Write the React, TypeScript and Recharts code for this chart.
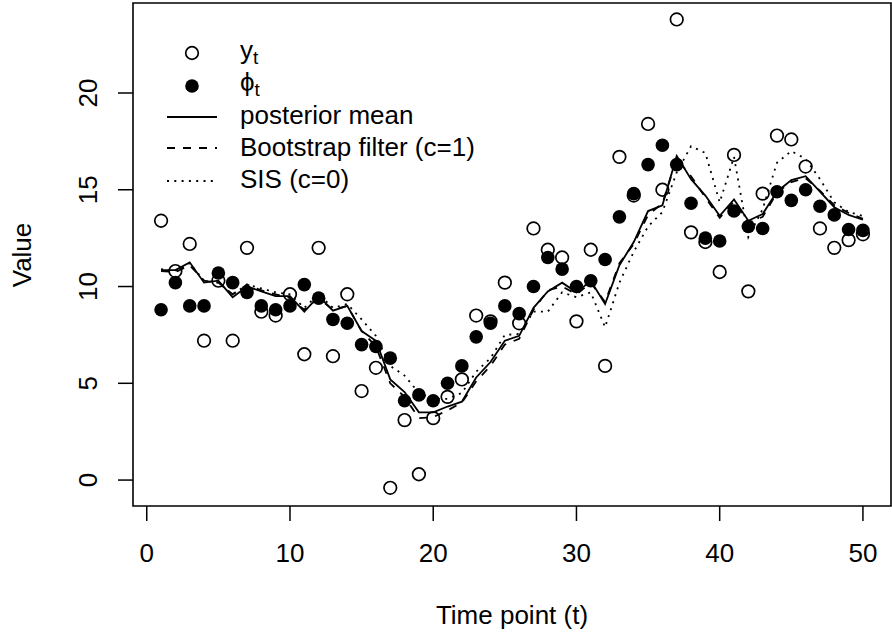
import { ComposedChart, Line, Scatter, XAxis, YAxis, ReferenceArea } from 'recharts';

// time points
const timePoints = [
  1, 2, 3, 4, 5, 6, 7, 8, 9, 10, 11, 12, 13, 14, 15, 16, 17, 18, 19, 20, 21, 22, 23, 24, 25,
  26, 27, 28, 29, 30, 31, 32, 33, 34, 35, 36, 37, 38, 39, 40, 41, 42, 43, 44, 45, 46, 47, 48, 49, 50,
];

// observations y_t (open circles)
const observed = [
  13.4, 10.8, 12.2, 7.2, 10.3, 7.2, 12.0, 8.7, 8.5, 9.6, 6.5, 12.0, 6.4, 9.6, 4.6, 5.8, -0.4, 3.1, 0.3, 3.2,
  4.3, 5.2, 8.5, 8.2, 10.2, 8.1, 13.0, 11.9, 11.5, 8.2, 11.9, 5.9, 16.7, 14.7, 18.4, 15.0, 23.8, 12.8, 12.3, 10.75,
  16.8, 9.75, 14.8, 17.8, 17.6, 16.2, 13.0, 12.0, 12.4, 12.7,
];

// true states phi_t (filled circles)
const states = [
  8.8, 10.2, 9.0, 9.0, 10.7, 10.2, 9.7, 9.0, 8.8, 9.0, 10.1, 9.4, 8.3, 8.1, 7.0, 6.9, 6.3, 4.1, 4.4, 4.1,
  5.0, 5.9, 7.4, 8.1, 9.0, 8.6, 10.0, 11.5, 10.9, 10.0, 10.3, 11.4, 13.6, 14.8, 16.3, 17.3, 16.3, 14.3, 12.5, 12.35,
  13.9, 13.1, 13.0, 14.9, 14.45, 15.0, 14.15, 13.7, 12.95, 12.9,
];

const posteriorMean = [
  10.85, 10.85, 11.25, 10.2, 10.3, 9.45, 10.0, 9.75, 9.5, 9.5, 8.7, 9.5, 8.75, 9.0, 7.7, 7.2, 5.2, 4.55, 3.5, 3.5,
  3.8, 4.05, 5.3, 6.1, 7.2, 7.45, 8.9, 9.75, 10.2, 9.7, 10.3, 9.1, 11.1, 12.3, 13.9, 14.2, 16.75, 15.55, 14.7, 13.65,
  14.5, 13.4, 13.75, 14.9, 15.5, 15.7, 14.9, 14.1, 13.7, 13.45,
];

const bootstrap = [
  10.8, 10.75, 11.1, 10.3, 10.2, 9.6, 10.1, 9.8, 9.6, 9.4, 8.8, 9.4, 8.8, 9.0, 7.7, 6.9, 5.0, 4.3, 3.2, 3.25,
  3.6, 4.0, 5.1, 5.9, 7.0, 7.3, 8.8, 9.8, 10.0, 9.6, 10.2, 9.2, 11.2, 12.2, 13.7, 14.3, 16.6, 15.7, 14.6, 13.55,
  14.4, 13.3, 13.6, 14.85, 15.4, 15.6, 14.95, 14.2, 13.8, 13.5,
];

const sis = [
  10.9, 10.8, 11.2, 10.3, 10.2, 9.6, 10.1, 9.9, 9.7, 9.6, 8.9, 9.6, 8.9, 9.1, 8.3, 7.45, 5.9, 5.4, 4.5, 4.2,
  4.2, 4.5, 5.6, 6.3, 7.5, 7.55, 8.7, 8.7, 9.7, 9.45, 9.7, 7.9, 10.2, 11.8, 13.1, 13.85, 15.9, 17.25, 16.9, 14.35,
  16.7, 12.55, 14.0, 16.4, 17.0, 16.6, 15.55, 14.35, 13.85, 13.65,
];

const xTicks = [0, 10, 20, 30, 40, 50];
const yTicks = [0, 5, 10, 15, 20];
const xDomain = [-0.96, 51.96];
const yDomain = [-1.34, 24.65];

const data = timePoints.map((t, i) => ({
  t,
  y: observed[i],
  phi: states[i],
  pm: posteriorMean[i],
  bf: bootstrap[i],
  sis: sis[i],
}));

const FONT = 'Liberation Sans, Arial, Helvetica, sans-serif';
const FS = 26;

const OpenDot = (props: any) => (
  <circle cx={props.cx} cy={props.cy} r={6.3} fill="none" stroke="#000" strokeWidth={1.7} />
);
const FilledDot = (props: any) => (
  <circle cx={props.cx} cy={props.cy} r={6.8} fill="#000" />
);

const YTick = (props: any) => {
  const { x, y, payload } = props;
  return (
    <text
      x={x}
      y={y}
      transform={`rotate(-90 ${x} ${y})`}
      textAnchor="middle"
      fontSize={FS}
      fontFamily={FONT}
      fill="#000"
    >
      {payload.value}
    </text>
  );
};

function Legend() {
  const rows = [
    { kind: 'open', y: 53, base: 59 },
    { kind: 'filled', y: 86, base: 91 },
    { kind: 'line', dash: undefined, y: 117, base: 124, label: 'posterior mean' },
    { kind: 'line', dash: '8 8', y: 148, base: 156, label: 'Bootstrap filter (c=1)' },
    { kind: 'line', dash: '2 5.3', y: 181, base: 188, label: 'SIS (c=0)' },
  ];
  return (
    <svg
      width={892}
      height={637}
      style={{ position: 'absolute', left: 0, top: 0, pointerEvents: 'none' }}
    >
      {rows.map((r, i) => (
        <g key={i}>
          {r.kind === 'open' && <circle cx={192} cy={r.y} r={6.3} fill="none" stroke="#000" strokeWidth={1.7} />}
          {r.kind === 'filled' && <circle cx={192} cy={r.y} r={6.8} fill="#000" />}
          {r.kind === 'line' && (
            <line x1={167} x2={217} y1={r.y} y2={r.y} stroke="#000" strokeWidth={1.8} strokeDasharray={r.dash} />
          )}
          <text x={240} y={r.base} fontSize={FS} fontFamily={FONT} fill="#000">
            {r.kind === 'open' && (
              <>
                y<tspan fontSize={19} dy={5}>t</tspan>
              </>
            )}
            {r.kind === 'filled' && (
              <>
                ϕ<tspan fontSize={19} dy={5}>t</tspan>
              </>
            )}
            {r.kind === 'line' && r.label}
          </text>
        </g>
      ))}
    </svg>
  );
}

export default function App() {
  return (
    <div style={{ position: 'absolute', left: 0, top: 0, width: 892, height: 637, background: '#fff' }}>
      <ComposedChart width={892} height={637} data={data} margin={{ top: 3, right: 1, bottom: 0, left: 0 }}>
        <XAxis
          dataKey="t"
          type="number"
          domain={xDomain}
          ticks={xTicks}
          allowDataOverflow
          height={131}
          tickSize={15}
          tickMargin={23}
          axisLine={false}
          tickLine={{ stroke: '#000', strokeWidth: 1.5 }}
          tick={{ fill: '#000', fontSize: FS, fontFamily: FONT }}
          label={() => (
            <text x={512} y={624} textAnchor="middle" fontSize={FS} fontFamily={FONT} fill="#000">
              Time point (t)
            </text>
          )}
        />
        <YAxis
          type="number"
          domain={yDomain}
          ticks={yTicks}
          allowDataOverflow
          width={133}
          tickSize={15}
          tickMargin={21}
          axisLine={false}
          tickLine={{ stroke: '#000', strokeWidth: 1.5 }}
          tick={<YTick />}
          label={() => (
            <text
              x={31}
              y={255}
              transform="rotate(-90 31 255)"
              textAnchor="middle"
              fontSize={FS}
              fontFamily={FONT}
              fill="#000"
            >
              Value
            </text>
          )}
        />
        <ReferenceArea
          x1={xDomain[0]}
          x2={xDomain[1]}
          y1={yDomain[0]}
          y2={yDomain[1]}
          fill="none"
          stroke="#000"
          strokeWidth={1.6}
          ifOverflow="visible"
        />
        <Scatter dataKey="y" shape={<OpenDot />} isAnimationActive={false} />
        <Scatter dataKey="phi" shape={<FilledDot />} isAnimationActive={false} />
        <Line type="linear" dataKey="pm" stroke="#000" strokeWidth={1.8} dot={false} isAnimationActive={false} />
        <Line
          type="linear"
          dataKey="bf"
          stroke="#000"
          strokeWidth={1.8}
          strokeDasharray="8 8"
          dot={false}
          isAnimationActive={false}
        />
        <Line
          type="linear"
          dataKey="sis"
          stroke="#000"
          strokeWidth={1.8}
          strokeDasharray="2 5.3"
          dot={false}
          isAnimationActive={false}
        />
      </ComposedChart>
      <Legend />
    </div>
  );
}
